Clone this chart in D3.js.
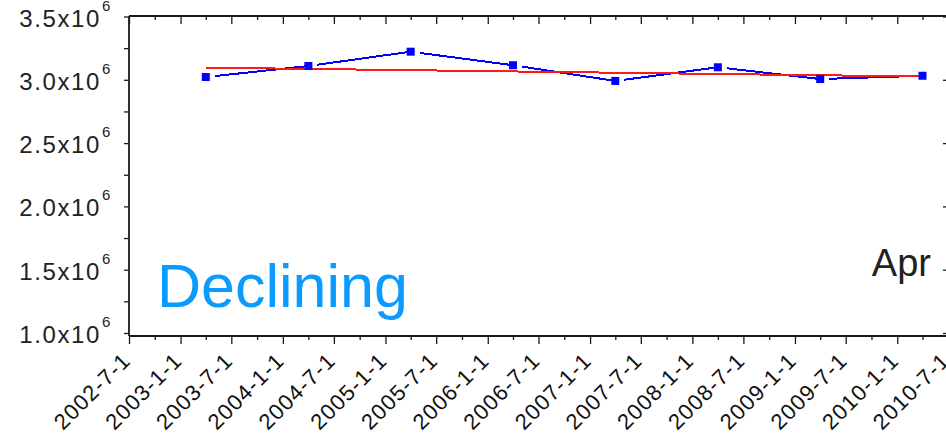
<!DOCTYPE html>
<html>
<head>
<meta charset="utf-8">
<script src="https://cdn.jsdelivr.net/npm/d3@7/dist/d3.min.js"></script>
<style>
  html, body { margin: 0; padding: 0; background: #fff; }
  svg { display: block; }
  text { font-family: "Liberation Sans", Arial, sans-serif; }
</style>
</head>
<body>
<svg id="chart" width="946" height="441"></svg>
<script>
// Yearly April readings
const pointDates = ["2003-04-01", "2004-04-01", "2005-04-01", "2006-04-01",
                    "2007-04-01", "2008-04-01", "2009-04-01", "2010-04-01"];
const pointValues = [3.022e6, 3.109e6, 3.222e6, 3.115e6, 2.991e6, 3.099e6, 3.006e6, 3.032e6];

// Linear trend endpoints
const trendDates = ["2003-04-01", "2010-04-01"];
const trendValues = [3.096e6, 3.026e6];

// Axis ticks
const xTickDates = ["2002-07-01", "2003-01-01", "2003-07-01", "2004-01-01", "2004-07-01",
                    "2005-01-01", "2005-07-01", "2006-01-01", "2006-07-01", "2007-01-01",
                    "2007-07-01", "2008-01-01", "2008-07-01", "2009-01-01", "2009-07-01",
                    "2010-01-01", "2010-07-01"];
const xTickLabels = ["2002-7-1", "2003-1-1", "2003-7-1", "2004-1-1", "2004-7-1",
                     "2005-1-1", "2005-7-1", "2006-1-1", "2006-7-1", "2007-1-1",
                     "2007-7-1", "2008-1-1", "2008-7-1", "2009-1-1", "2009-7-1",
                     "2010-1-1", "2010-7-1"];
const xMinorDates = ["2002-10-01", "2003-04-01", "2003-10-01", "2004-04-01", "2004-10-01",
                     "2005-04-01", "2005-10-01", "2006-04-01", "2006-10-01", "2007-04-01",
                     "2007-10-01", "2008-04-01", "2008-10-01", "2009-04-01", "2009-10-01",
                     "2010-04-01"];
const yTickValues = [1.0e6, 1.5e6, 2.0e6, 2.5e6, 3.0e6, 3.5e6];
const yTickLabels = ["1.0x10", "1.5x10", "2.0x10", "2.5x10", "3.0x10", "3.5x10"];
const yTickExponent = "6";
const yMinorValues = [1.25e6, 1.75e6, 2.25e6, 2.75e6, 3.25e6];

const noteText = "Declining";
const sideText = "Apr";

const parse = d3.utcParse("%Y-%m-%d");
const svg = d3.select("#chart");

const plotLeft = 129, plotRight = 948, plotTop = 16, plotBottom = 336;

const x = d3.scaleUtc()
  .domain([parse("2002-07-01"), parse("2010-07-01")])
  .range([plotLeft, plotRight]);
const y = d3.scaleLinear()
  .domain([1.0e6, 3.5e6])
  .range([333, 16.5]);

const axisColor = "#1a1a1a";

function styleAxis(g) {
  g.select(".domain").remove();
  g.selectAll(".tick line").attr("stroke", axisColor).attr("stroke-width", 1.3);
  g.selectAll(".tick text").remove();
}

// Bottom axis: major and minor ticks pointing outward
svg.append("g").attr("transform", `translate(0,${plotBottom})`)
  .call(d3.axisBottom(x).tickValues(xTickDates.map(parse)).tickSize(8).tickFormat(""))
  .call(styleAxis);
svg.append("g").attr("transform", `translate(0,${plotBottom})`)
  .call(d3.axisBottom(x).tickValues(xMinorDates.map(parse)).tickSize(4).tickFormat(""))
  .call(styleAxis);

// Top frame: ticks pointing inward
svg.append("g").attr("transform", `translate(0,${plotTop})`)
  .call(d3.axisBottom(x).tickValues(xTickDates.map(parse)).tickSize(8).tickFormat(""))
  .call(styleAxis);
svg.append("g").attr("transform", `translate(0,${plotTop})`)
  .call(d3.axisBottom(x).tickValues(xMinorDates.map(parse)).tickSize(4).tickFormat(""))
  .call(styleAxis);

// Left axis
svg.append("g").attr("transform", `translate(${plotLeft},0)`)
  .call(d3.axisLeft(y).tickValues(yTickValues).tickSize(5).tickFormat(""))
  .call(styleAxis);
svg.append("g").attr("transform", `translate(${plotLeft},0)`)
  .call(d3.axisLeft(y).tickValues(yMinorValues).tickSize(5).tickFormat(""))
  .call(styleAxis);

// Right frame: ticks pointing inward
svg.append("g").attr("transform", `translate(${plotRight},0)`)
  .call(d3.axisLeft(y).tickValues(yTickValues).tickSize(5).tickFormat(""))
  .call(styleAxis);

// Frame lines
svg.append("line").attr("x1", plotLeft).attr("x2", plotRight).attr("y1", plotTop).attr("y2", plotTop)
  .attr("stroke", axisColor).attr("stroke-width", 1.8);
svg.append("line").attr("x1", plotLeft).attr("x2", plotRight).attr("y1", plotBottom).attr("y2", plotBottom)
  .attr("stroke", axisColor).attr("stroke-width", 1.8);
svg.append("line").attr("x1", plotLeft).attr("x2", plotLeft).attr("y1", plotTop).attr("y2", plotBottom)
  .attr("stroke", axisColor).attr("stroke-width", 1.8);

// Y tick labels with superscript exponent
const yLab = svg.append("g");
yTickValues.forEach((v, i) => {
  yLab.append("text")
    .attr("x", 101).attr("y", y(v) + 10)
    .attr("text-anchor", "end")
    .attr("font-size", 24)
    .attr("letter-spacing", 1.6)
    .attr("fill", "#222")
    .text(yTickLabels[i]);
  yLab.append("text")
    .attr("x", 102).attr("y", y(v) - 6)
    .attr("font-size", 15)
    .attr("fill", "#222")
    .text(yTickExponent);
});

// X tick labels, rotated
const xLab = svg.append("g");
xTickDates.forEach((d, i) => {
  xLab.append("text")
    .attr("transform", `translate(${x(parse(d)) + 3},362) rotate(-45)`)
    .attr("text-anchor", "end")
    .attr("font-size", 22)
    .attr("letter-spacing", 1.2)
    .attr("fill", "#111")
    .text(xTickLabels[i]);
});

// Data series
const pts = pointDates.map((d, i) => ({ px: x(parse(d)), py: y(pointValues[i]) }));

// Connecting segments, each leaving a small gap after its starting symbol
const segs = svg.append("g");
for (let i = 0; i < pts.length - 1; i++) {
  const a = pts[i], b = pts[i + 1];
  const dx = b.px - a.px, dy = b.py - a.py;
  const len = Math.hypot(dx, dy);
  const gap = 9;
  segs.append("line")
    .attr("x1", a.px + dx / len * gap).attr("y1", a.py + dy / len * gap)
    .attr("x2", b.px).attr("y2", b.py)
    .attr("stroke", "#0000ff").attr("stroke-width", 2)
    .attr("shape-rendering", "crispEdges");
}

// Trend line
const trend = trendDates.map((d, i) => [x(parse(d)), y(trendValues[i])]);
svg.append("path")
  .attr("d", d3.line()(trend))
  .attr("fill", "none")
  .attr("stroke", "#ff1a1a")
  .attr("stroke-width", 2)
  .attr("shape-rendering", "crispEdges");

// Square symbols
svg.append("g").selectAll("rect").data(pts).join("rect")
  .attr("x", d => d.px - 4).attr("y", d => d.py - 4)
  .attr("width", 8).attr("height", 8)
  .attr("fill", "#0000ff");

// Annotations
svg.append("text")
  .attr("x", 157).attr("y", 307)
  .attr("font-size", 61)
  .attr("fill", "#0a9bff")
  .text(noteText);

svg.append("text")
  .attr("x", 931).attr("y", 276)
  .attr("text-anchor", "end")
  .attr("font-size", 38)
  .attr("fill", "#222")
  .text(sideText);
</script>
</body>
</html>
